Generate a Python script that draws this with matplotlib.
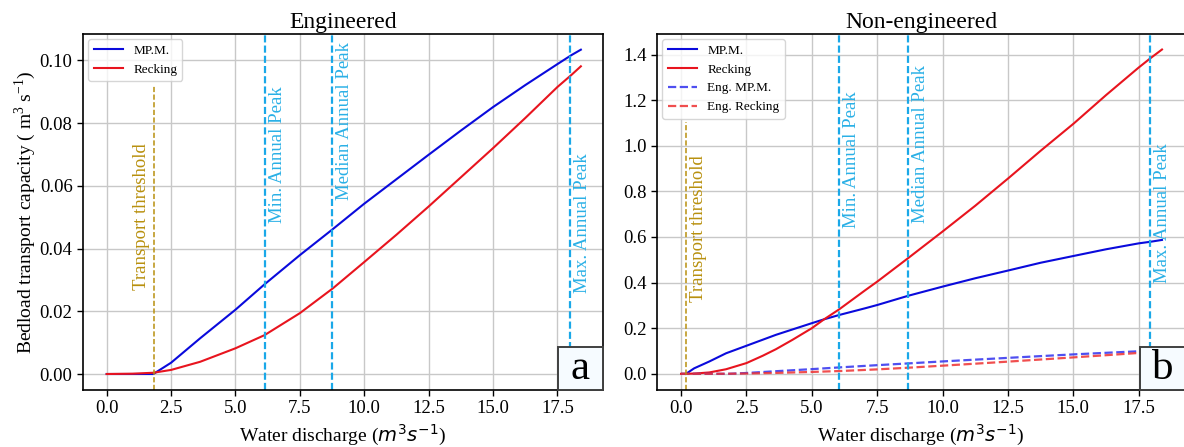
import numpy as np
import matplotlib.pyplot as plt
from matplotlib.patches import Rectangle

plt.rcParams['font.family'] = ['Liberation Serif', 'DejaVu Serif']
plt.rcParams['mathtext.fontset'] = 'dejavusans'

# Engineered reach (panel a, also dashed in panel b)
eng_q = [0.0, 1.0, 1.81, 2.5, 3.63, 5.0, 6.13, 7.5, 8.78, 10.0, 11.25, 12.5,
         13.75, 15.0, 16.25, 17.5, 18.05, 18.41]
eng_mpm = [0.0, 0.0, 0.0, 0.0036, 0.0114, 0.0205, 0.0286, 0.0379, 0.0462, 0.0543,
           0.0621, 0.0699, 0.0776, 0.0851, 0.0921, 0.0988, 0.1017, 0.1034]
eng_rec = [0.0, 0.0001, 0.0004, 0.0013, 0.0039, 0.0082, 0.0124, 0.0194, 0.0273,
           0.0357, 0.0444, 0.0534, 0.0627, 0.0720, 0.0816, 0.0915, 0.0954, 0.0981]

# Non-engineered reach (panel b)
ne_q_mpm = [0.19, 0.5, 1.08, 1.72, 2.5, 3.63, 5.0, 5.47, 6.05, 7.06, 7.51, 8.68,
            9.99, 11.25, 12.51, 13.75, 15.02, 16.25, 17.5, 17.95, 18.39]
ne_mpm = [0.0, 0.024, 0.054, 0.09, 0.123, 0.171, 0.222, 0.239, 0.258, 0.288, 0.302,
          0.342, 0.382, 0.419, 0.453, 0.487, 0.517, 0.546, 0.572, 0.579, 0.587]
ne_q_rec = [0.0, 0.5, 1.08, 1.72, 2.5, 3.12, 3.63, 4.26, 5.0, 5.47, 6.05, 7.06, 7.51,
            8.68, 9.99, 11.25, 12.51, 13.75, 15.02, 16.25, 17.5, 17.95, 18.39]
ne_rec = [0.0, 0.001, 0.006, 0.02, 0.047, 0.079, 0.108, 0.149, 0.2, 0.239, 0.283,
          0.368, 0.405, 0.507, 0.623, 0.737, 0.857, 0.978, 1.098, 1.222, 1.343,
          1.384, 1.422]

# reference discharges
thresh = {'a': 1.82, 'b': 0.2}
peaks = {'a': [6.15, 8.76, 17.98], 'b': [6.05, 8.67, 17.93]}
peak_names = ['Min. Annual Peak', 'Median Annual Peak', 'Max. Annual Peak']
peak_text_y = {'a': [0.048, 0.0555, 0.0258], 'b': [0.64, 0.66, 0.40]}
thresh_text_y = {'a': 0.0268, 'b': 0.315}

gold = '#b8900e'
sky = '#1aa8e8'

fig = plt.figure(figsize=(11.84, 4.47), dpi=100)
W, H = 1184, 447
axa = fig.add_axes([83/W, 1-390/H, 520/W, 356/H])
axb = fig.add_axes([657/W, 1-390/H, 528/W, 356/H])

for ax in (axa, axb):
    ax.grid(True, color='#c8c8c8', linewidth=1)
    ax.set_axisbelow(True)
    ax.tick_params(labelsize=13.5, width=1, length=4)
    for s in ax.spines.values():
        s.set_linewidth(1.2)

axa.plot(eng_q, eng_mpm, color='#0a0adc', lw=1.5, label='MP.M.')
axa.plot(eng_q, eng_rec, color='#e8141e', lw=1.5, label='Recking')

axb.plot(ne_q_mpm, ne_mpm, color='#0a0adc', lw=1.5, label='MP.M.')
axb.plot(ne_q_rec, ne_rec, color='#e8141e', lw=1.5, label='Recking')
axb.plot(eng_q, eng_mpm, color='#3030ee', lw=1.6, ls='--', alpha=0.85, label='Eng. MP.M.')
axb.plot(eng_q, eng_rec, color='#ee3030', lw=1.6, ls='--', alpha=0.85, label='Eng. Recking')

axa.set_xlim(-0.92, 19.27)
axb.set_xlim(-0.92, 19.27)
axa.set_ylim(-0.0051, 0.1084)
axb.set_ylim(-0.071, 1.49)

# threshold lines
axa.axvline(thresh['a'], ymax=0.854, color=gold, ls='--', lw=1.1, dashes=(3.4, 1.6))
axa.text(thresh['a'] - 0.12, thresh_text_y['a'], 'Transport threshold', rotation=90,
         color=gold, fontsize=13.5, ha='right', va='bottom')
axb.axvline(thresh['b'], ymax=0.753, color=gold, ls='--', lw=1.1, dashes=(3.4, 1.6))
axb.text(thresh['b'] + 0.15, thresh_text_y['b'], 'Transport threshold', rotation=90,
         color=gold, fontsize=13.5, ha='left', va='bottom')

# annual peaks
for ax, key in [(axa, 'a'), (axb, 'b')]:
    for q, name, ty in zip(peaks[key], peak_names, peak_text_y[key]):
        ax.axvline(q, color=sky, ls='--', lw=1.6, dashes=(3.2, 1.4))
        ax.text(q + 0.15, ty, name, rotation=90, color='#2ab0e6',
                fontsize=13.5, ha='left', va='bottom')

axa.legend(loc='upper left', fontsize=9.5, handlelength=2.2, borderaxespad=0.4)
axb.legend(loc='upper left', fontsize=9.5, handlelength=2.2, borderaxespad=0.4)

# panel letters in a box at the lower right corner
for ax, lab, bw in [(axa, 'a', 45/520), (axb, 'b', 45/528)]:
    bh = 43/356
    ax.add_patch(Rectangle((1 - bw, 0), bw, bh, transform=ax.transAxes,
                           facecolor='#f6fbff', edgecolor='#404040', lw=1.4,
                           zorder=5, clip_on=False))
    ax.text(1 - bw/2, bh/2, lab, transform=ax.transAxes, fontsize=31,
            ha='center', va='center', zorder=6)

axa.set_title('Engineered', fontsize=17, pad=4)
axb.set_title('Non-engineered', fontsize=17, pad=4)
axa.set_xlabel(r'Water discharge ($m^3s^{-1}$)', fontsize=14, labelpad=4)
axb.set_xlabel(r'Water discharge ($m^3s^{-1}$)', fontsize=14, labelpad=4)
axa.set_ylabel(r'Bedload transport capacity ( m$^{\mathregular{3}}$ s$^{\mathregular{-1}}$)',
               fontsize=14, labelpad=1.5)

fig.savefig('out.png', dpi=100)
